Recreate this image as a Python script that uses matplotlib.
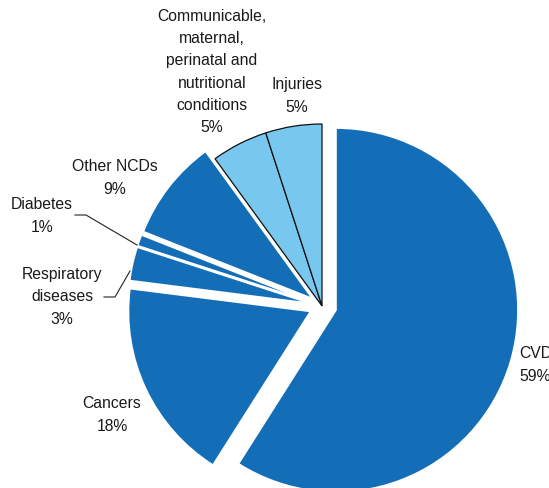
import matplotlib
matplotlib.use("Agg")
import matplotlib.pyplot as plt

categories = ["CVD", "Cancers", "Respiratory\ndiseases", "Diabetes", "Other NCDs",
              "Communicable,\nmaternal,\nperinatal and\nnutritional\nconditions", "Injuries"]
values = [59, 18, 3, 1, 9, 5, 5]
pct_labels = ["59%", "18%", "3%", "1%", "9%", "5%", "5%"]

DARK = "#136EB7"
LIGHT = "#78C7EF"
colors = [DARK, DARK, DARK, DARK, DARK, LIGHT, LIGHT]
explode_frac = [0.08, 0.07, 0.066, 0.066, 0.066, 0.0, 0.0]

W, H = 549, 489
R = 182
fig = plt.figure(figsize=(W / 100, H / 100), dpi=100)
ax = fig.add_axes([0, 0, 1, 1])

def py(y):
    return H - y

wedges, _ = ax.pie(values, explode=[e * R for e in explode_frac], colors=colors,
                   startangle=90, counterclock=False, center=(322, py(307)),
                   radius=R, frame=True)
ax.set_xlim(0, W)
ax.set_ylim(0, H)
ax.set_aspect("equal")
ax.axis("off")
for w, c in zip(wedges, colors):
    if c == LIGHT:
        w.set_edgecolor("#111111")
        w.set_linewidth(0.9)
    else:
        w.set_edgecolor("white")
        w.set_linewidth(1.2)

fs = 11.3
tc = "#1a1a1a"
label_pos = [
    (519, 365, "left"),
    (112, 415, "center"),
    (62, 297, "center"),
    (42, 216, "center"),
    (115, 178, "center"),
    (212, 72, "center"),
    (297, 96, "center"),
]
for cat, pct, (x, y, ha) in zip(categories, pct_labels, label_pos):
    ax.text(x, py(y), f"{cat}\n{pct}", ha=ha, va="center", fontsize=fs,
            color=tc, linespacing=1.6, family=["Liberation Sans", "DejaVu Sans"])

# leader lines
ax.plot([75, 86, 137], [py(216), py(216), py(246)], color="#222222", lw=0.8)
ax.plot([104, 115, 130], [py(298), py(298), py(272)], color="#222222", lw=0.8)

fig.savefig("out.png", dpi=100)
